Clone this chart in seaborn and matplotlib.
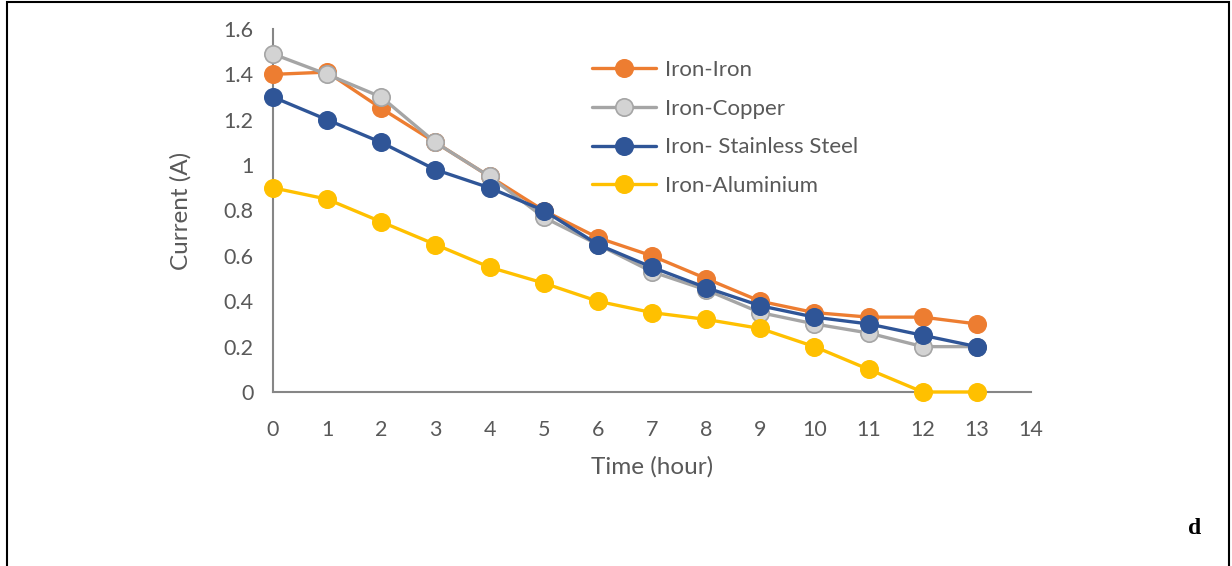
import matplotlib
matplotlib.use("Agg")
import matplotlib.pyplot as plt
import seaborn as sns
import pandas as pd
from matplotlib.patches import Rectangle
from matplotlib.ticker import FuncFormatter, MultipleLocator

hours = list(range(14))
iron_iron = [1.40, 1.41, 1.25, 1.10, 0.95, 0.80, 0.68, 0.60, 0.50, 0.40, 0.35, 0.33, 0.33, 0.30]
iron_copper = [1.49, 1.40, 1.30, 1.10, 0.95, 0.77, 0.65, 0.53, 0.45, 0.35, 0.30, 0.26, 0.20, 0.20]
iron_steel = [1.30, 1.20, 1.10, 0.98, 0.90, 0.80, 0.65, 0.55, 0.46, 0.38, 0.33, 0.30, 0.25, 0.20]
iron_alu = [0.90, 0.85, 0.75, 0.65, 0.55, 0.48, 0.40, 0.35, 0.32, 0.28, 0.20, 0.10, 0.00, 0.00]

series_names = ["Iron-Iron", "Iron-Copper", "Iron- Stainless Steel", "Iron-Aluminium"]
series_values = [iron_iron, iron_copper, iron_steel, iron_alu]
line_colors = ["#ED7D31", "#A5A5A5", "#2F5597", "#FFC000"]
face_colors = ["#ED7D31", "#D3D3D3", "#2F5597", "#FFC000"]

df = pd.DataFrame({
    "Time (hour)": hours * len(series_names),
    "Current (A)": sum(series_values, []),
    "Series": [n for n in series_names for _ in hours],
})

sns.set_style("white")
plt.rcParams["font.family"] = ["Lato", "DejaVu Sans"]
text_color = "#595959"

fig = plt.figure(figsize=(12.32, 5.66), dpi=100)
ax = fig.add_axes([273 / 1232, 1 - 392 / 566, (1031 - 273) / 1232, (392 - 29) / 566])

for i, (name, col, fc) in enumerate(zip(series_names, line_colors, face_colors)):
    sub = df[df["Series"] == name]
    sns.lineplot(data=sub, x="Time (hour)", y="Current (A)", ax=ax, color=col,
                 linewidth=2.4, marker="o", markersize=12.5, markerfacecolor=fc,
                 markeredgecolor=col, markeredgewidth=1.2, label=name, zorder=3 + i,
                 clip_on=False)

ax.set_xlim(0, 14)
ax.set_ylim(0, 1.6)
ax.xaxis.set_major_locator(MultipleLocator(1))
ax.yaxis.set_major_locator(MultipleLocator(0.2))
ax.yaxis.set_major_formatter(FuncFormatter(lambda v, p: f"{round(v, 1):g}"))

for side in ["top", "right"]:
    ax.spines[side].set_visible(False)
for side in ["left", "bottom"]:
    ax.spines[side].set_color("#868686")
    ax.spines[side].set_linewidth(1.5)

ax.tick_params(axis="both", direction="in", length=5, width=1.2, color="#868686",
               labelcolor=text_color, labelsize=15.5)
ax.tick_params(axis="x", pad=20)
ax.tick_params(axis="y", pad=14)

ax.set_xlabel("Time (hour)", fontsize=17.5, color=text_color, labelpad=12)
ax.set_ylabel("Current (A)", fontsize=17.5, color=text_color, labelpad=23)

leg = ax.legend(loc="upper left", bbox_to_anchor=(592 / 1232, 1 - 60 / 566),
                bbox_transform=fig.transFigure, frameon=False, fontsize=16,
                handlelength=2.9, handletextpad=0.4, labelspacing=0.84,
                borderpad=0, borderaxespad=0)
for t in leg.get_texts():
    t.set_color(text_color)

fig.text(1195 / 1232, 1 - 528 / 566, "d", fontsize=17, fontweight="bold",
         family="Liberation Serif", ha="center", va="center", color="black")

fig.add_artist(Rectangle((7 / 1232, -0.02), (1229 - 7) / 1232, 1 - 2 / 566 + 0.02,
                         transform=fig.transFigure, fill=False, edgecolor="black",
                         linewidth=1.5))

fig.savefig("out.png", dpi=100)
